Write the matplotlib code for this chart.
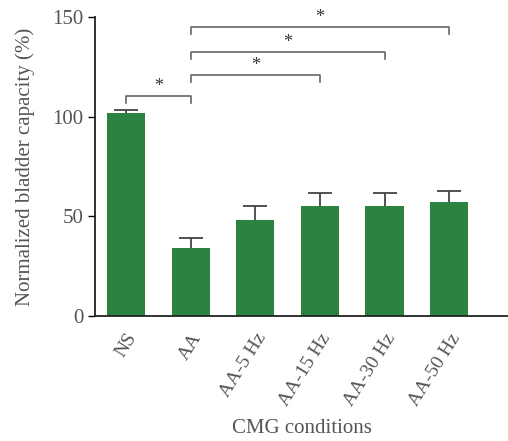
import matplotlib
matplotlib.use("Agg")
from matplotlib import pyplot as plt

# Data
conditions = ["NS", "AA", "AA-5 Hz", "AA-15 Hz", "AA-30 Hz", "AA-50 Hz"]
capacity = [102, 34, 48, 55, 55, 57]
sem = [1.5, 5, 7, 6.5, 6.5, 5.5]

# Significance brackets: (from, to, height)
brackets = [(0, 1, 110.5), (1, 3, 121), (1, 4, 132.5), (1, 5, 145)]

plt.rcParams["font.family"] = ["Liberation Serif", "DejaVu Serif"]
text_col = "#555555"
green = "#2a843f"

fig = plt.figure(figsize=(5.08, 4.41), dpi=100)
ax = fig.add_axes([0.187, 0.283, 0.813, 0.679])

x = list(range(len(conditions)))
tops = [c + e for c, e in zip(capacity, sem)]
ax.bar(x, capacity, width=0.59, color=green, zorder=2)
# upper error only: stem + cap
ax.vlines(x, capacity, tops, color="#444444", lw=1.3, zorder=1)
ax.plot(x, tops, ls="none", marker="_", markersize=17, mew=1.3,
        color="#444444", zorder=1)

drop = 3.5
for a, b, h in brackets:
    ax.plot([a, a, b, b], [h - drop, h, h, h - drop], color="#666666", lw=1.2,
            clip_on=False)
    ax.text((a + b) / 2, h + 0.5, "*", ha="center", va="bottom",
            fontsize=13, color="#333333")

ax.set_xlim(-0.48, 5.91)
ax.set_ylim(0, 150)
ax.set_yticks([0, 50, 100, 150])
ax.set_xticks(x)
ax.set_xticklabels(conditions, rotation=58, ha="right", rotation_mode="anchor",
                   fontsize=14, color=text_col)
ax.tick_params(axis="x", length=0, pad=10)
ax.tick_params(axis="y", labelsize=15, labelcolor=text_col, length=5,
               width=1, direction="out")
for s in ["top", "right"]:
    ax.spines[s].set_visible(False)
for s in ["left", "bottom"]:
    ax.spines[s].set_linewidth(1.3)
    ax.spines[s].set_color("#222222")

ax.set_ylabel("Normalized bladder capacity (%)", fontsize=15, color=text_col,
              labelpad=12)
ax.set_xlabel("CMG conditions", fontsize=15, color=text_col, va="center")
ax.xaxis.set_label_coords(0.5, -0.375)

fig.savefig("out.png", dpi=100)
